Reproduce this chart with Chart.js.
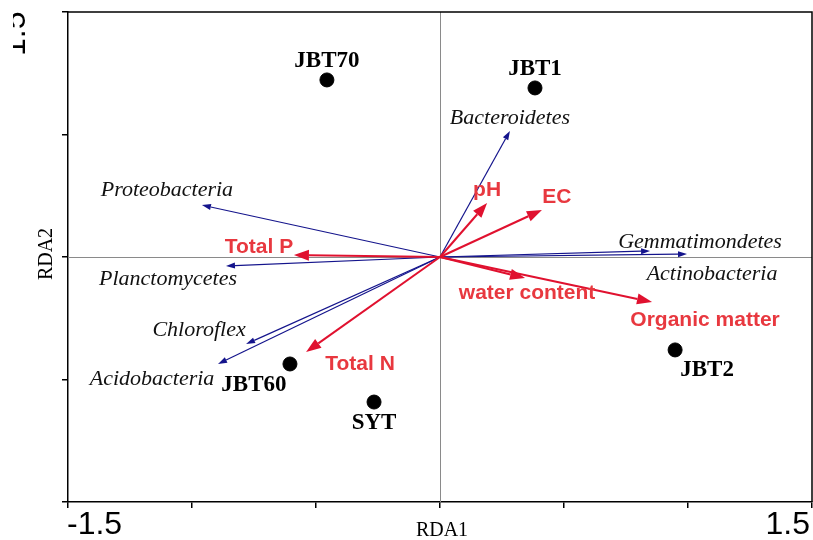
<!DOCTYPE html>
<html>
<head>
<meta charset="utf-8">
<script src="https://cdn.jsdelivr.net/npm/chart.js@4/dist/chart.umd.min.js"></script>
<style>
  html, body { margin: 0; padding: 0; background: #fff; }
  #rda { display: block; }
</style>
</head>
<body>
<canvas id="rda" width="813" height="540"></canvas>
<script>
// sample scores
const siteNames = ["JBT70", "JBT1", "JBT60", "SYT", "JBT2"];
const siteX = [-0.456, 0.383, -0.605, -0.266, 0.948];
const siteY = [1.084, 1.035, -0.655, -0.888, -0.569];

// species arrows (phyla)
const speciesNames = ["Bacteroidetes", "Proteobacteria", "Planctomycetes", "Chloroflex", "Acidobacteria", "Gemmatimondetes", "Actinobacteria"];
const speciesX = [0.282, -0.960, -0.863, -0.782, -0.895, 0.847, 0.996];
const speciesY = [0.772, 0.318, -0.055, -0.533, -0.655, 0.037, 0.018];

// environmental arrows
const envNames = ["pH", "EC", "water content", "Organic matter", "Total P", "Total N"];
const envX = [0.190, 0.411, 0.343, 0.855, -0.589, -0.540];
const envY = [0.331, 0.288, -0.129, -0.276, 0.012, -0.582];

// axis ticks
const xTicksShown = [-1.5, 1.5];
const yTicksShown = [1.5];
const xTitle = "RDA1";
const yTitle = "RDA2";

// label placement (px offsets from point / arrow tip)
const siteOffsets = [[0, -19], [0, -19], [-36, 21], [0, 21], [32, 20]];
const speciesOffsets = [[0, -13], [-35, -15], [-58, 13], [-47, -14], [-66, 15], [50, -9], [25, 20]];
const envOffsets = [[0, -13], [15, -13], [2, 15], [53, 18], [-35, -8], [54, 12]];

const BLUE = "#14148c";
const RED = "#e0112f";
const RED_TEXT = "#e8383f";

function arrow(ctx, x0, y0, x1, y1, len, half, color, lw) {
  const a = Math.atan2(y1 - y0, x1 - x0);
  const bx = x1 - len * Math.cos(a), by = y1 - len * Math.sin(a);
  ctx.strokeStyle = color;
  ctx.fillStyle = color;
  ctx.lineWidth = lw;
  ctx.beginPath();
  ctx.moveTo(x0, y0);
  ctx.lineTo(bx, by);
  ctx.stroke();
  ctx.beginPath();
  ctx.moveTo(x1, y1);
  ctx.lineTo(bx + half * Math.sin(a), by - half * Math.cos(a));
  ctx.lineTo(bx - half * Math.sin(a), by + half * Math.cos(a));
  ctx.closePath();
  ctx.fill();
}

const biplot = {
  id: "biplot",
  beforeDatasetsDraw(chart) {
    const { ctx, chartArea: a, scales: { x, y } } = chart;
    const ox = x.getPixelForValue(0), oy = y.getPixelForValue(0);
    ctx.save();
    // zero lines
    ctx.strokeStyle = "#8a8a8a";
    ctx.lineWidth = 1;
    ctx.beginPath();
    ctx.moveTo(Math.round(ox) + 0.5, a.top);
    ctx.lineTo(Math.round(ox) + 0.5, a.bottom);
    ctx.moveTo(a.left, Math.round(oy) + 0.5);
    ctx.lineTo(a.right, Math.round(oy) + 0.5);
    ctx.stroke();

    speciesNames.forEach((n, i) => {
      arrow(ctx, ox, oy, x.getPixelForValue(speciesX[i]), y.getPixelForValue(speciesY[i]), 9, 3, BLUE, 1.2);
    });
    envNames.forEach((n, i) => {
      arrow(ctx, ox, oy, x.getPixelForValue(envX[i]), y.getPixelForValue(envY[i]), 15, 5.5, RED, 2);
    });

    ctx.textAlign = "center";
    ctx.textBaseline = "middle";
    ctx.fillStyle = "#111";
    ctx.font = "italic 22px 'Liberation Serif', 'Times New Roman', serif";
    speciesNames.forEach((n, i) => {
      const px = x.getPixelForValue(speciesX[i]), py = y.getPixelForValue(speciesY[i]);
      ctx.fillText(n, px + speciesOffsets[i][0], py + speciesOffsets[i][1]);
    });
    ctx.fillStyle = RED_TEXT;
    ctx.font = "bold 21px 'Liberation Sans', Arial, sans-serif";
    envNames.forEach((n, i) => {
      const px = x.getPixelForValue(envX[i]), py = y.getPixelForValue(envY[i]);
      ctx.fillText(n, px + envOffsets[i][0], py + envOffsets[i][1]);
    });
    ctx.fillStyle = "#000";
    ctx.font = "bold 23px 'Liberation Serif', 'Times New Roman', serif";
    siteNames.forEach((n, i) => {
      const px = x.getPixelForValue(siteX[i]), py = y.getPixelForValue(siteY[i]);
      ctx.fillText(n, px + siteOffsets[i][0], py + siteOffsets[i][1]);
    });
    ctx.restore();
  },
  afterDraw(chart) {
    const { ctx, chartArea: a, scales: { x, y } } = chart;
    ctx.save();
    // top and right frame
    ctx.strokeStyle = "#000";
    ctx.lineWidth = 1.5;
    ctx.beginPath();
    ctx.moveTo(a.left, a.top);
    ctx.lineTo(a.right, a.top);
    ctx.lineTo(a.right, a.bottom);
    ctx.stroke();

    // x tick labels, only the ends
    ctx.fillStyle = "#000";
    ctx.font = "32px 'Liberation Sans', Arial, sans-serif";
    ctx.textBaseline = "middle";
    xTicksShown.forEach((v, i) => {
      ctx.textAlign = i === 0 ? "left" : "right";
      ctx.fillText(String(v), x.getPixelForValue(v) + (i === 0 ? -1 : -2), 525);
    });
    // y tick label, rotated and clipped like the source figure
    yTicksShown.forEach(v => {
      const py = y.getPixelForValue(v);
      ctx.save();
      ctx.beginPath();
      ctx.rect(13, 0, 12, py + 50);
      ctx.clip();
      ctx.translate(25, py + 44);
      ctx.rotate(-Math.PI / 2);
      ctx.textAlign = "left";
      ctx.textBaseline = "alphabetic";
      ctx.fillText(String(v), 0, 0);
      ctx.restore();
    });

    // axis titles
    ctx.font = "20px 'Liberation Serif', 'Times New Roman', serif";
    ctx.textAlign = "center";
    ctx.textBaseline = "middle";
    ctx.fillText(xTitle, (a.left + a.right) / 2 + 2, 531);
    ctx.translate(47, y.getPixelForValue(0) - 3);
    ctx.rotate(-Math.PI / 2);
    ctx.fillText(yTitle, 0, 0);
    ctx.restore();
  }
};

new Chart(document.getElementById("rda"), {
  type: "scatter",
  data: {
    datasets: [{
      label: "Sites",
      data: siteNames.map((n, i) => ({ x: siteX[i], y: siteY[i] })),
      backgroundColor: "#000",
      borderColor: "#000",
      pointRadius: 7,
      pointHoverRadius: 7
    }]
  },
  options: {
    responsive: false,
    animation: false,
    layout: { autoPadding: false, padding: { top: 12, right: 1, left: 0, bottom: 0 } },
    plugins: { legend: { display: false }, tooltip: { enabled: false } },
    scales: {
      x: {
        type: "linear", min: -1.5, max: 1.5,
        ticks: { stepSize: 0.5, display: false },
        grid: { drawOnChartArea: false, drawTicks: true, tickLength: 6, color: "#000", lineWidth: 1.5 },
        border: { display: true, color: "#000", width: 1.5 },
        afterFit: s => { s.height = 38; s.paddingLeft = 0; s.paddingRight = 0; }
      },
      y: {
        type: "linear", min: -1.5, max: 1.5,
        ticks: { stepSize: 0.75, display: false },
        grid: { drawOnChartArea: false, drawTicks: true, tickLength: 6, color: "#000", lineWidth: 1.5 },
        border: { display: true, color: "#000", width: 1.5 },
        afterFit: s => { s.width = 68; s.paddingTop = 0; s.paddingBottom = 0; }
      }
    }
  },
  plugins: [biplot]
});
</script>
</body>
</html>
